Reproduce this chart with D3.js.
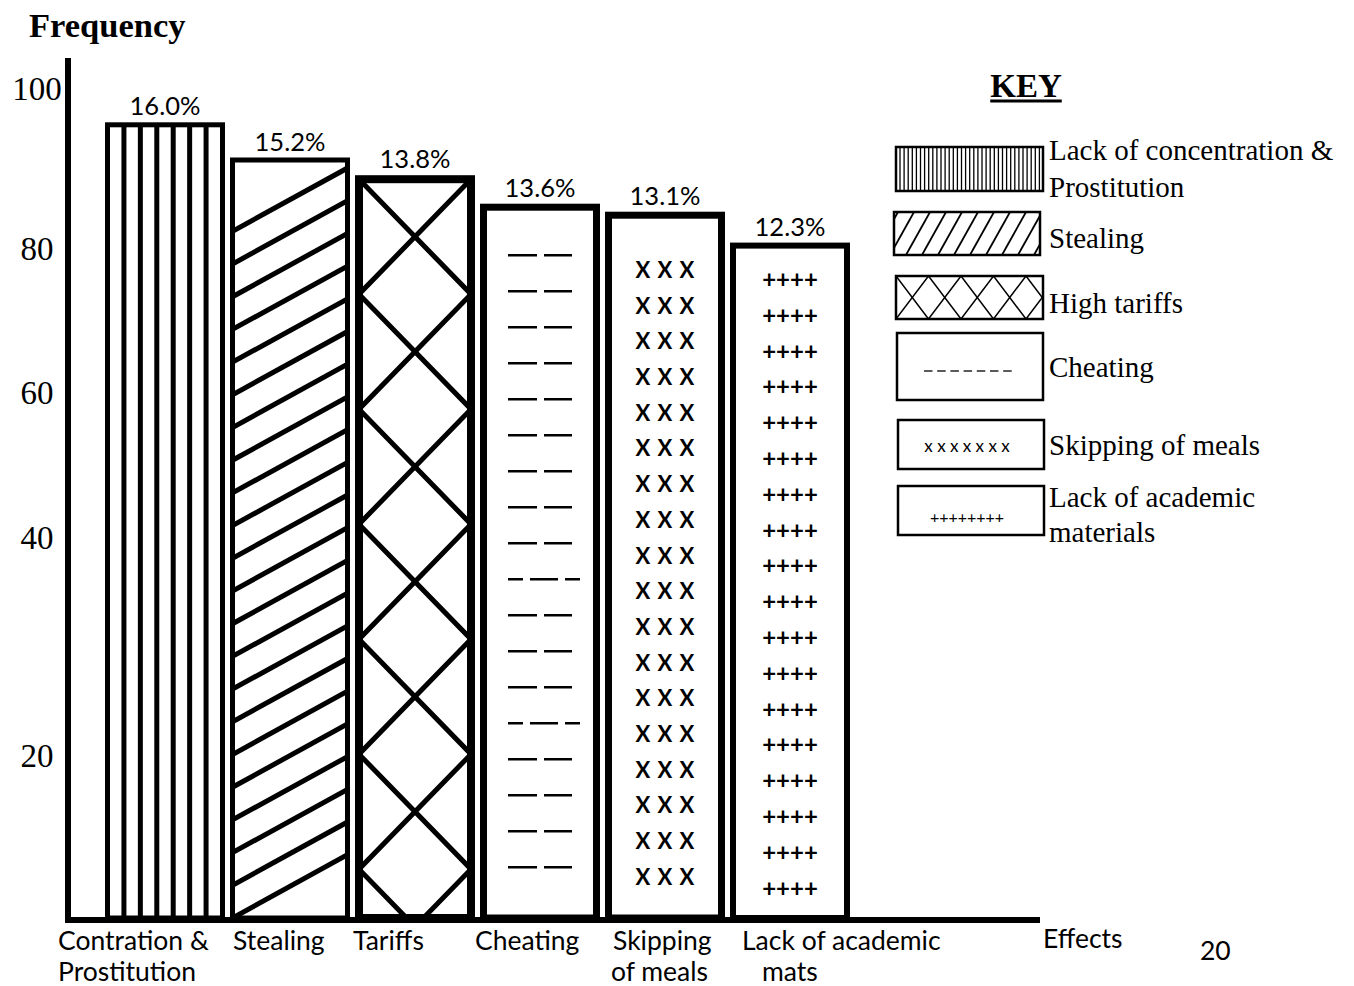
<!DOCTYPE html>
<html><head><meta charset="utf-8">
<script src="https://cdn.jsdelivr.net/npm/d3@7"></script>
<style>body{margin:0;background:#fff} svg{display:block}</style>
</head><body>
<script>
// ---------- data ----------
const categories = ["Contration & Prostitution","Stealing","Tariffs","Cheating","Skipping of meals","Lack of academic mats"];
const categoryLabelLines = [["Contration &","Prostitution"],["Stealing"],["Tariffs"],["Cheating"],["Skipping","of meals"],["Lack of academic","mats"]];
const frequencies = [95.4, 91.0, 88.6, 85.1, 84.1, 80.3];
const percentLabels = ["16.0%","15.2%","13.8%","13.6%","13.1%","12.3%"];
const yTickValues = [100, 80, 60, 40, 20];
const patternKinds = ["vertical","diagonal","diamond","dash","cross","plus"];
const keyLabels = [["Lack of concentration &","Prostitution"],["Stealing"],["High tariffs"],["Cheating"],["Skipping of meals"],["Lack of academic","materials"]];

// ---------- layout / style ----------
const W = 1354, H = 986;
const SERIF = "'Liberation Serif','Times New Roman',serif";
const SANS = "Lato,'Open Sans',sans-serif";
const barStroke = [5, 5, 8, 7, 7, 6];
const labelDx = [[-47,-47],[3],[-2],[-5],[8,6],[12,32]];

const svg = d3.select("body").append("svg").attr("width", W).attr("height", H);
const defs = svg.append("defs");

const x = d3.scaleBand().domain(categories).range([105, 850]).paddingInner(0.04);
const y = d3.scaleLinear().domain([0, 20, 40, 60, 80, 100]).range([918, 755, 537, 392, 248, 88]);

// ---------- axes ----------
svg.append("line").attr("x1", 68).attr("x2", 68).attr("y1", 58).attr("y2", 923)
  .attr("stroke", "#000").attr("stroke-width", 6);
svg.append("line").attr("x1", 65).attr("x2", 1040).attr("y1", y(0) + 2).attr("y2", y(0) + 2)
  .attr("stroke", "#000").attr("stroke-width", 6);

svg.append("text").attr("x", 29).attr("y", 37).text("Frequency")
  .attr("font-family", SERIF).attr("font-weight", "bold").attr("font-size", 34.5);

svg.selectAll("text.ytick").data(yTickValues).join("text").attr("class", "ytick")
  .attr("x", 37).attr("y", d => y(d)).attr("dy", "0.35em").attr("text-anchor", "middle")
  .attr("font-family", SERIF).attr("font-size", 33).text(d => d);

// ---------- bars ----------
categories.forEach((c, i) => {
  const sw = barStroke[i];
  const x0 = x(c), bw = x.bandwidth();
  const yt = y(frequencies[i]), yb = y(0);
  const xl = x0 + sw / 2, xr = x0 + bw - sw / 2;
  const cx = x0 + bw / 2;
  const g = svg.append("g");
  const clipId = "clip" + i;
  defs.append("clipPath").attr("id", clipId).append("rect")
    .attr("x", xl).attr("y", yt).attr("width", xr - xl).attr("height", yb - yt);
  const pg = g.append("g").attr("clip-path", `url(#${clipId})`);
  const kind = patternKinds[i];
  const line = (a, b, c2, d, w) => pg.append("line").attr("x1", a).attr("y1", b).attr("x2", c2).attr("y2", d)
    .attr("stroke", "#000").attr("stroke-width", w);

  if (kind === "vertical") {
    for (let k = 1; k < 7; k++) {
      const xx = xl + k * (xr - xl) / 7;
      line(xx, yt, xx, yb, 5);
    }
  } else if (kind === "diagonal") {
    const dy = 0.55 * (xr - xl), sp = 32.7;
    for (let k = 0; ; k++) {
      const ly = yb - k * sp;
      if (ly - dy < yt + 8) break;
      line(xl, ly, xr, ly - dy, 5);
    }
  } else if (kind === "diamond") {
    const P = 115;
    const a = [], b = [];
    for (let k = 0; yt + (k - 1) * P < yb; k++) {
      a.push([k % 2 ? xr : xl, yt + k * P]);
      b.push([k % 2 ? xl : xr, yt + k * P]);
    }
    [a, b].forEach(pts => pg.append("path").attr("d", d3.line()(pts))
      .attr("fill", "none").attr("stroke", "#000").attr("stroke-width", 5));
  } else if (kind === "dash") {
    const variantRows = [9, 13];
    for (let r = 0; yt + 48 + r * 36 < yb - 20; r++) {
      const yy = yt + 48 + r * 36;
      const segs = variantRows.includes(r)
        ? [[-32, -17], [-10, 18], [25, 40]]
        : [[-32, -3], [4, 32]];
      segs.forEach(s => line(cx + s[0], yy, cx + s[1], yy, 2.5));
    }
  } else if (kind === "cross") {
    for (let r = 0; yt + 55 + r * 35.7 < yb - 20; r++) {
      const yy = yt + 55 + r * 35.7;
      [-22, 0, 22].forEach(o => pg.append("text").attr("x", cx + o).attr("y", yy).attr("dy", "0.35em")
        .attr("text-anchor", "middle").attr("font-family", SANS).attr("font-weight", "bold")
        .attr("font-size", 22).text("X"));
    }
  } else if (kind === "plus") {
    for (let r = 0; yt + 34 + r * 35.8 < yb - 15; r++) {
      const yy = yt + 34 + r * 35.8;
      pg.append("text").attr("x", cx).attr("y", yy).attr("dy", "0.35em")
        .attr("text-anchor", "middle").attr("font-family", SANS).attr("font-weight", "bold")
        .attr("font-size", 24).text("++++");
    }
  }
  g.append("rect").attr("x", xl).attr("y", yt).attr("width", xr - xl).attr("height", yb - yt)
    .attr("fill", "none").attr("stroke", "#000").attr("stroke-width", sw);

  svg.append("text").attr("x", cx).attr("y", yt - sw / 2 - 7).attr("text-anchor", "middle")
    .attr("font-family", SANS).attr("font-size", 25.5).text(percentLabels[i]);

  categoryLabelLines[i].forEach((t, j) => {
    svg.append("text").attr("x", x0 + labelDx[i][j]).attr("y", 950 + j * 31)
      .attr("font-family", SANS).attr("font-size", 26.5).text(t);
  });
});

svg.append("text").attr("x", 1043).attr("y", 948).attr("font-family", SANS).attr("font-size", 26.5).text("Effects");
svg.append("text").attr("x", 1200).attr("y", 960).attr("font-family", SANS).attr("font-size", 26.5).text("20");

// ---------- key ----------
const keyT = svg.append("text").attr("x", 1026).attr("y", 97).attr("text-anchor", "middle")
  .attr("font-family", SERIF).attr("font-weight", "bold").attr("font-size", 33).text("KEY");
const kw = keyT.node().getComputedTextLength();
svg.append("line").attr("x1", 1026 - kw / 2).attr("x2", 1026 + kw / 2).attr("y1", 101).attr("y2", 101)
  .attr("stroke", "#000").attr("stroke-width", 3);

const keyBoxes = [[896,147,147,44],[894,212,146,43],[896,276,147,43],[897,333,146,67],[898,420,146,49],[898,486,146,49]];
const keyBaselines = [[160,197],[248],[313],[377],[455],[507,542]];

keyBoxes.forEach((bx, i) => {
  const [bx0, by0, bw, bh] = bx;
  const g = svg.append("g");
  const clipId = "kclip" + i;
  defs.append("clipPath").attr("id", clipId).append("rect").attr("x", bx0).attr("y", by0).attr("width", bw).attr("height", bh);
  const pg = g.append("g").attr("clip-path", `url(#${clipId})`);
  const ln = (a, b, c, d, w) => pg.append("line").attr("x1", a).attr("y1", b).attr("x2", c).attr("y2", d)
    .attr("stroke", "#000").attr("stroke-width", w);
  const kind = patternKinds[i];
  if (kind === "vertical") {
    for (let xx = bx0 + 4; xx < bx0 + bw - 1; xx += 4.1) ln(xx, by0, xx, by0 + bh, 1.3);
  } else if (kind === "diagonal") {
    for (let xx = bx0 - 20; xx < bx0 + bw + 10; xx += 16) ln(xx, by0 + bh, xx + 24, by0, 1.8);
  } else if (kind === "diamond") {
    const P = 32.5, a = [], b = [];
    for (let k = 0; (k - 1) * P < bw; k++) {
      a.push([bx0 + k * P, k % 2 ? by0 + bh : by0]);
      b.push([bx0 + k * P, k % 2 ? by0 : by0 + bh]);
    }
    [a, b].forEach(pts => pg.append("path").attr("d", d3.line()(pts)).attr("fill", "none")
      .attr("stroke", "#000").attr("stroke-width", 1.5));
  } else if (kind === "dash") {
    for (let k = 0; k < 7; k++) ln(924 + k * 13.2, by0 + 38, 924 + k * 13.2 + 8.5, by0 + 38, 1.3);
  } else if (kind === "cross") {
    pg.append("text").attr("x", 967).attr("y", by0 + 32).attr("text-anchor", "middle")
      .attr("font-family", SANS).attr("font-size", 17).text("x x x x x x x");
  } else if (kind === "plus") {
    pg.append("text").attr("x", 967).attr("y", by0 + 37).attr("text-anchor", "middle")
      .attr("font-family", SANS).attr("font-size", 16).text("++++++++");
  }
  g.append("rect").attr("x", bx0).attr("y", by0).attr("width", bw).attr("height", bh)
    .attr("fill", "none").attr("stroke", "#000").attr("stroke-width", 2.5);

  keyLabels[i].forEach((t, j) => {
    svg.append("text").attr("x", 1049).attr("y", keyBaselines[i][j])
      .attr("font-family", SERIF).attr("font-size", 29).text(t);
  });
});
</script>
</body></html>
